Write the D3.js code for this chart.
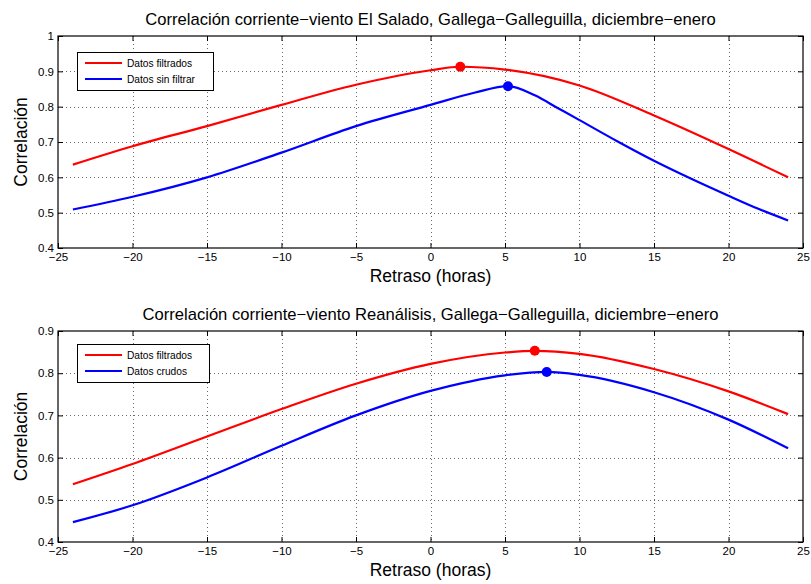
<!DOCTYPE html>
<html><head><meta charset="utf-8">
<script src="https://cdn.jsdelivr.net/npm/d3@7"></script>
<style>
body{margin:0;background:#fff;}
svg{display:block;font-family:"Liberation Sans",Arial,sans-serif;}
</style></head>
<body>
<svg id="chart" width="811" height="584"></svg>
<script>
// ---------- data ----------
const xTicks = [-25,-20,-15,-10,-5,0,5,10,15,20,25];
const topYTicks = [0.4,0.5,0.6,0.7,0.8,0.9,1];
const bottomYTicks = [0.4,0.5,0.6,0.7,0.8,0.9];

const topTitle = "Correlación corriente\u2212viento El Salado, Gallega\u2212Galleguilla, diciembre\u2212enero";
const bottomTitle = "Correlación corriente\u2212viento Reanálisis, Gallega\u2212Galleguilla, diciembre\u2212enero";
const xLabel = "Retraso (horas)";
const yLabel = "Correlación";

const topLegend = ["Datos filtrados", "Datos sin filtrar"];
const bottomLegend = ["Datos filtrados", "Datos crudos"];

const topFilteredLag = [-24,-20,-15,-10,-5,0,2,5,10,15,20,24];
const topFilteredVal = [0.636,0.688,0.745,0.805,0.862,0.903,0.913,0.905,0.86,0.775,0.68,0.60];
const topRawLag = [-24,-20,-15,-10,-5,0,3,5.2,7,8.5,10,12.5,15,17.5,20,22,24];
const topRawVal = [0.509,0.545,0.6,0.67,0.745,0.805,0.84,0.858,0.832,0.797,0.762,0.703,0.647,0.596,0.548,0.511,0.478];
const topPeaks = [[2,0.913],[5.2,0.858]];

const botFilteredLag = [-24,-20,-15,-10,-5,0,5,7,10,15,20,24];
const botFilteredVal = [0.537,0.585,0.65,0.715,0.775,0.822,0.849,0.853,0.846,0.81,0.757,0.703];
const botRawLag = [-24,-20,-15,-10,-5,0,5,7.8,10,15,20,24];
const botRawVal = [0.447,0.487,0.553,0.628,0.70,0.758,0.795,0.803,0.796,0.755,0.69,0.622];
const botPeaks = [[7,0.853],[7.8,0.803]];

const colors = ["#ff0000","#0000ff"];

// ---------- drawing ----------
const svg = d3.select("#chart");
svg.append("rect").attr("width",811).attr("height",584).attr("fill","#fff");

function panel(cfg){
  const {left,right,top,bottom,yDomain,yTicks,title,legend,series,peaks,legendBox} = cfg;
  const x = d3.scaleLinear().domain([-25,25]).range([left,right]);
  const y = d3.scaleLinear().domain(yDomain).range([bottom,top]);
  const g = svg.append("g");

  const grid = g.append("g").attr("stroke","#444").attr("stroke-width",0.8).attr("stroke-dasharray","1,3");
  xTicks.slice(1,-1).forEach(t=>{
    grid.append("line").attr("x1",Math.round(x(t))+0.5).attr("x2",Math.round(x(t))+0.5).attr("y1",top).attr("y2",bottom);
  });
  yTicks.slice(1,-1).forEach(t=>{
    grid.append("line").attr("y1",Math.round(y(t))+0.5).attr("y2",Math.round(y(t))+0.5).attr("x1",left).attr("x2",right);
  });

  const axB = d3.axisBottom(x).tickValues(xTicks).tickSizeInner(-5).tickSizeOuter(0).tickPadding(5).tickFormat(d=>d<0?"\u2212"+Math.abs(d):d);
  const axT = d3.axisTop(x).tickValues(xTicks).tickSizeInner(-5).tickSizeOuter(0).tickFormat("");
  const axL = d3.axisLeft(y).tickValues(yTicks).tickSizeInner(-5).tickSizeOuter(0).tickPadding(4).tickFormat(d=>d===1?"1":d3.format(".1f")(d));
  const axR = d3.axisRight(y).tickValues(yTicks).tickSizeInner(-5).tickSizeOuter(0).tickFormat("");
  const styleAx = s=>{s.select(".domain").remove(); s.selectAll("line").attr("stroke","#000"); s.selectAll("text").attr("fill","#000").attr("font-size",11.5);};
  g.append("g").attr("transform",`translate(0,${bottom})`).call(axB).call(styleAx);
  g.append("g").attr("transform",`translate(0,${top})`).call(axT).call(styleAx);
  g.append("g").attr("transform",`translate(${left},0)`).call(axL).call(styleAx);
  g.append("g").attr("transform",`translate(${right},0)`).call(axR).call(styleAx);
  g.append("rect").attr("x",left).attr("y",top).attr("width",right-left).attr("height",bottom-top)
    .attr("fill","none").attr("stroke","#000").attr("stroke-width",1.2);

  const line = d3.line().x(d=>x(d[0])).y(d=>y(d[1])).curve(d3.curveMonotoneX);
  series.forEach((s,i)=>{
    const pts = s[0].map((v,j)=>[v,s[1][j]]);
    g.append("path").attr("d",line(pts)).attr("fill","none").attr("stroke",colors[i]).attr("stroke-width",2.2);
  });
  peaks.forEach((p,i)=>{
    g.append("circle").attr("cx",x(p[0])).attr("cy",y(p[1])).attr("r",5).attr("fill",colors[i]);
  });

  svg.append("text").attr("x",(left+right)/2).attr("y",top-11).attr("text-anchor","middle")
    .attr("font-size",16.6).attr("fill","#000").text(title);
  svg.append("text").attr("x",(left+right)/2).attr("y",bottom+34).attr("text-anchor","middle")
    .attr("font-size",17.5).attr("fill","#000").text(xLabel);
  svg.append("text").attr("transform",`translate(27,${(top+bottom)/2}) rotate(-90)`).attr("text-anchor","middle")
    .attr("font-size",17.5).attr("fill","#000").text(yLabel);

  const lg = svg.append("g");
  lg.append("rect").attr("x",legendBox[0]+0.5).attr("y",legendBox[1]+0.5).attr("width",legendBox[2]).attr("height",legendBox[3])
    .attr("fill","#fff").attr("stroke","#000").attr("stroke-width",1);
  legend.forEach((name,i)=>{
    const yy = legendBox[1]+11+i*16;
    lg.append("line").attr("x1",legendBox[0]+8).attr("x2",legendBox[0]+45).attr("y1",yy).attr("y2",yy)
      .attr("stroke",colors[i]).attr("stroke-width",2.2);
    lg.append("text").attr("x",legendBox[0]+50).attr("y",yy+4).attr("font-size",10.2).attr("fill","#000").text(name);
  });
}

panel({left:58,right:803,top:36,bottom:248,yDomain:[0.4,1],yTicks:topYTicks,title:topTitle,legend:topLegend,
  series:[[topFilteredLag,topFilteredVal],[topRawLag,topRawVal]],peaks:topPeaks,legendBox:[77,52,136,38]});
panel({left:58,right:803,top:331,bottom:542,yDomain:[0.4,0.9],yTicks:bottomYTicks,title:bottomTitle,legend:bottomLegend,
  series:[[botFilteredLag,botFilteredVal],[botRawLag,botRawVal]],peaks:botPeaks,legendBox:[77,344,132,38]});
</script>
</body></html>
